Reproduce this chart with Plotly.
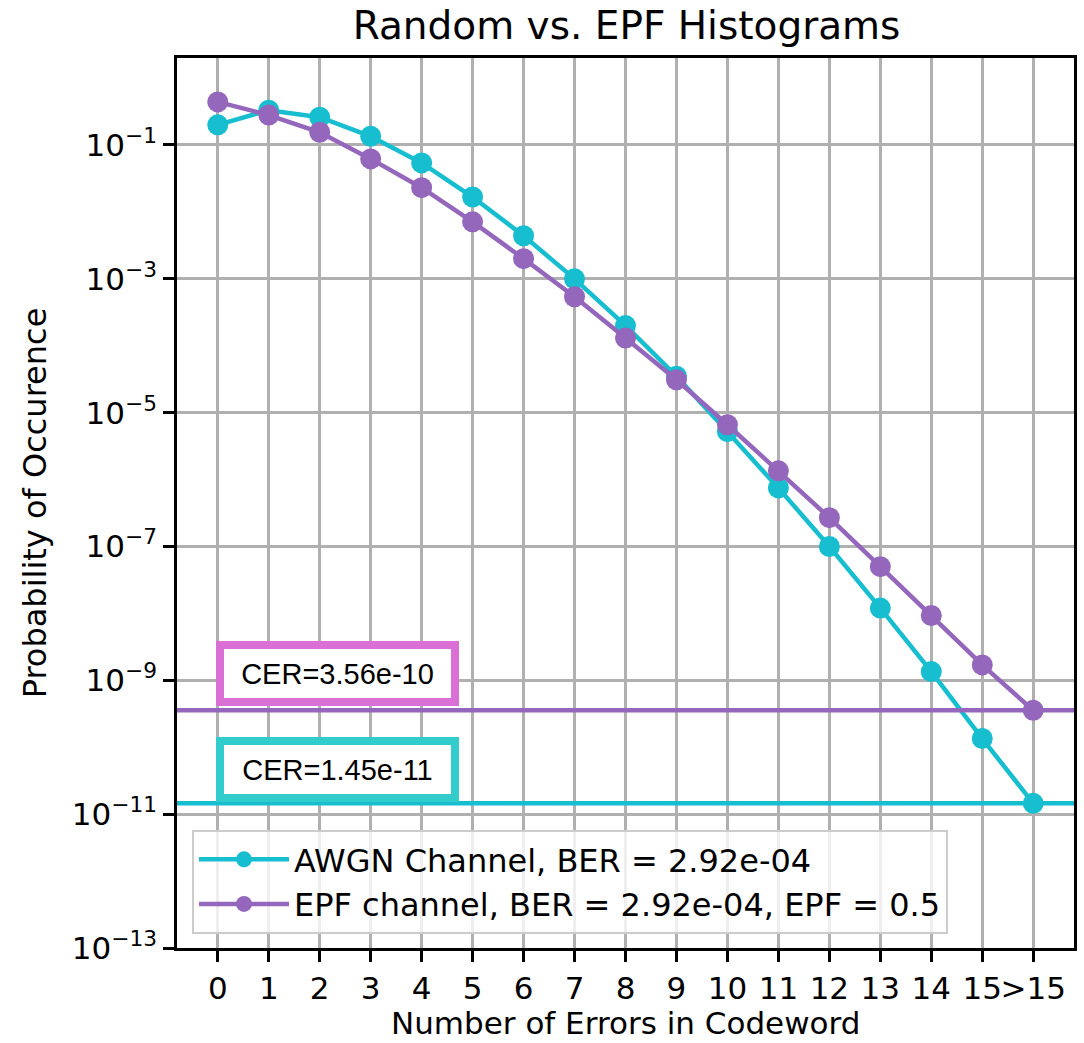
import numpy as np
import plotly.graph_objects as go

categories = ["0", "1", "2", "3", "4", "5", "6", "7", "8", "9", "10", "11", "12", "13", "14", "15", ">15"]
awgn_prob = [0.20, 0.33, 0.26, 0.135, 0.054, 0.0167, 0.0044, 1.0e-3, 2.0e-4, 3.5e-5,
             5.2e-6, 7.5e-7, 1.0e-7, 1.2e-8, 1.35e-9, 1.35e-10, 1.45e-11]
epf_prob = [0.44, 0.28, 0.155, 0.062, 0.023, 0.0071, 0.0020, 5.4e-4, 1.3e-4, 3.1e-5,
            6.6e-6, 1.35e-6, 2.7e-7, 5.0e-8, 9.3e-9, 1.7e-9, 3.56e-10]
cer_awgn = 1.45e-11
cer_epf = 3.56e-10
awgn_name = "AWGN Channel, BER = 2.92e-04"
epf_name = "EPF channel, BER = 2.92e-04, EPF = 0.5"
ytick_exps = [-13, -11, -9, -7, -5, -3, -1]

CYAN = "#17becf"
PURPLE = "#9467bd"
xpos = list(range(len(categories)))

fig = go.Figure()
fig.add_trace(go.Scatter(x=xpos, y=awgn_prob, mode="lines+markers", name=awgn_name,
                         line=dict(color=CYAN, width=4.5), marker=dict(size=21, color=CYAN)))
fig.add_trace(go.Scatter(x=xpos, y=epf_prob, mode="lines+markers", name=epf_name,
                         line=dict(color=PURPLE, width=4.5), marker=dict(size=21, color=PURPLE)))

fig.add_shape(type="line", xref="paper", x0=0, x1=1, yref="y", y0=cer_epf, y1=cer_epf,
              line=dict(color=PURPLE, width=4.5), layer="above")
fig.add_shape(type="line", xref="paper", x0=0, x1=1, yref="y", y0=cer_awgn, y1=cer_awgn,
              line=dict(color=CYAN, width=4.5), layer="above")

fig.add_annotation(x=2.343, y=np.log10(cer_epf) + 0.545, xref="x", yref="y",
                   text="CER=%.2e" % cer_epf, showarrow=False,
                   font=dict(family="Liberation Sans", size=29, color="black"),
                   bgcolor="white", bordercolor="#da70d6", borderwidth=8, borderpad=0,
                   width=227, height=49)
fig.add_annotation(x=2.343, y=np.log10(cer_awgn) + 0.505, xref="x", yref="y",
                   text="CER=%.2e" % cer_awgn, showarrow=False,
                   font=dict(family="Liberation Sans", size=29, color="black"),
                   bgcolor="white", bordercolor="#33cccc", borderwidth=8, borderpad=0,
                   width=227, height=49)

# x-axis title placed as paper annotation for precise placement
fig.add_annotation(x=0.5, y=-(1023 - 948) / 890, xref="paper", yref="paper",
                   text="Number of Errors in Codeword", showarrow=False,
                   xanchor="center", yanchor="middle",
                   font=dict(family="DejaVu Sans", size=31, color="black"))

axis_common = dict(showline=True, linecolor="black", linewidth=2.5, mirror=True,
                   ticks="outside", ticklen=11, tickwidth=2.5, tickcolor="black",
                   showgrid=True, gridcolor="#b0b0b0", gridwidth=2.5, zeroline=False,
                   automargin=False,
                   tickfont=dict(family="DejaVu Sans", size=31, color="black"))

fig.update_layout(
    width=1084, height=1043,
    margin=dict(l=177, r=10, t=58, b=95),
    paper_bgcolor="white", plot_bgcolor="white",
    font=dict(family="DejaVu Sans", color="black"),
    title=dict(text="Random vs. EPF Histograms", x=0.578, xanchor="center",
               y=1 - 25 / 1043, yanchor="middle", yref="container",
               font=dict(family="DejaVu Sans", size=39, color="black")),
    xaxis=dict(range=[-0.8, 16.8], tickmode="array", tickvals=xpos, ticktext=categories,
               tickangle=0, **axis_common),
    yaxis=dict(type="log", range=[-13, 0.3], tickmode="array",
               tickvals=[10.0 ** e for e in ytick_exps],
               ticktext=["10<sup>\u2212%d</sup>" % (-e) for e in ytick_exps],
               title=dict(text="Probability of Occurence", standoff=16,
                          font=dict(family="DejaVu Sans", size=32)),
               **axis_common),
    legend=dict(x=0.0167, y=0.1326, xanchor="left", yanchor="top",
                bgcolor="rgba(255,255,255,0.8)", bordercolor="#cccccc", borderwidth=2,
                font=dict(family="DejaVu Sans", size=32, color="black"),
                itemwidth=90, tracegroupgap=0),
    showlegend=True,
)

fig.write_html("out.html")
